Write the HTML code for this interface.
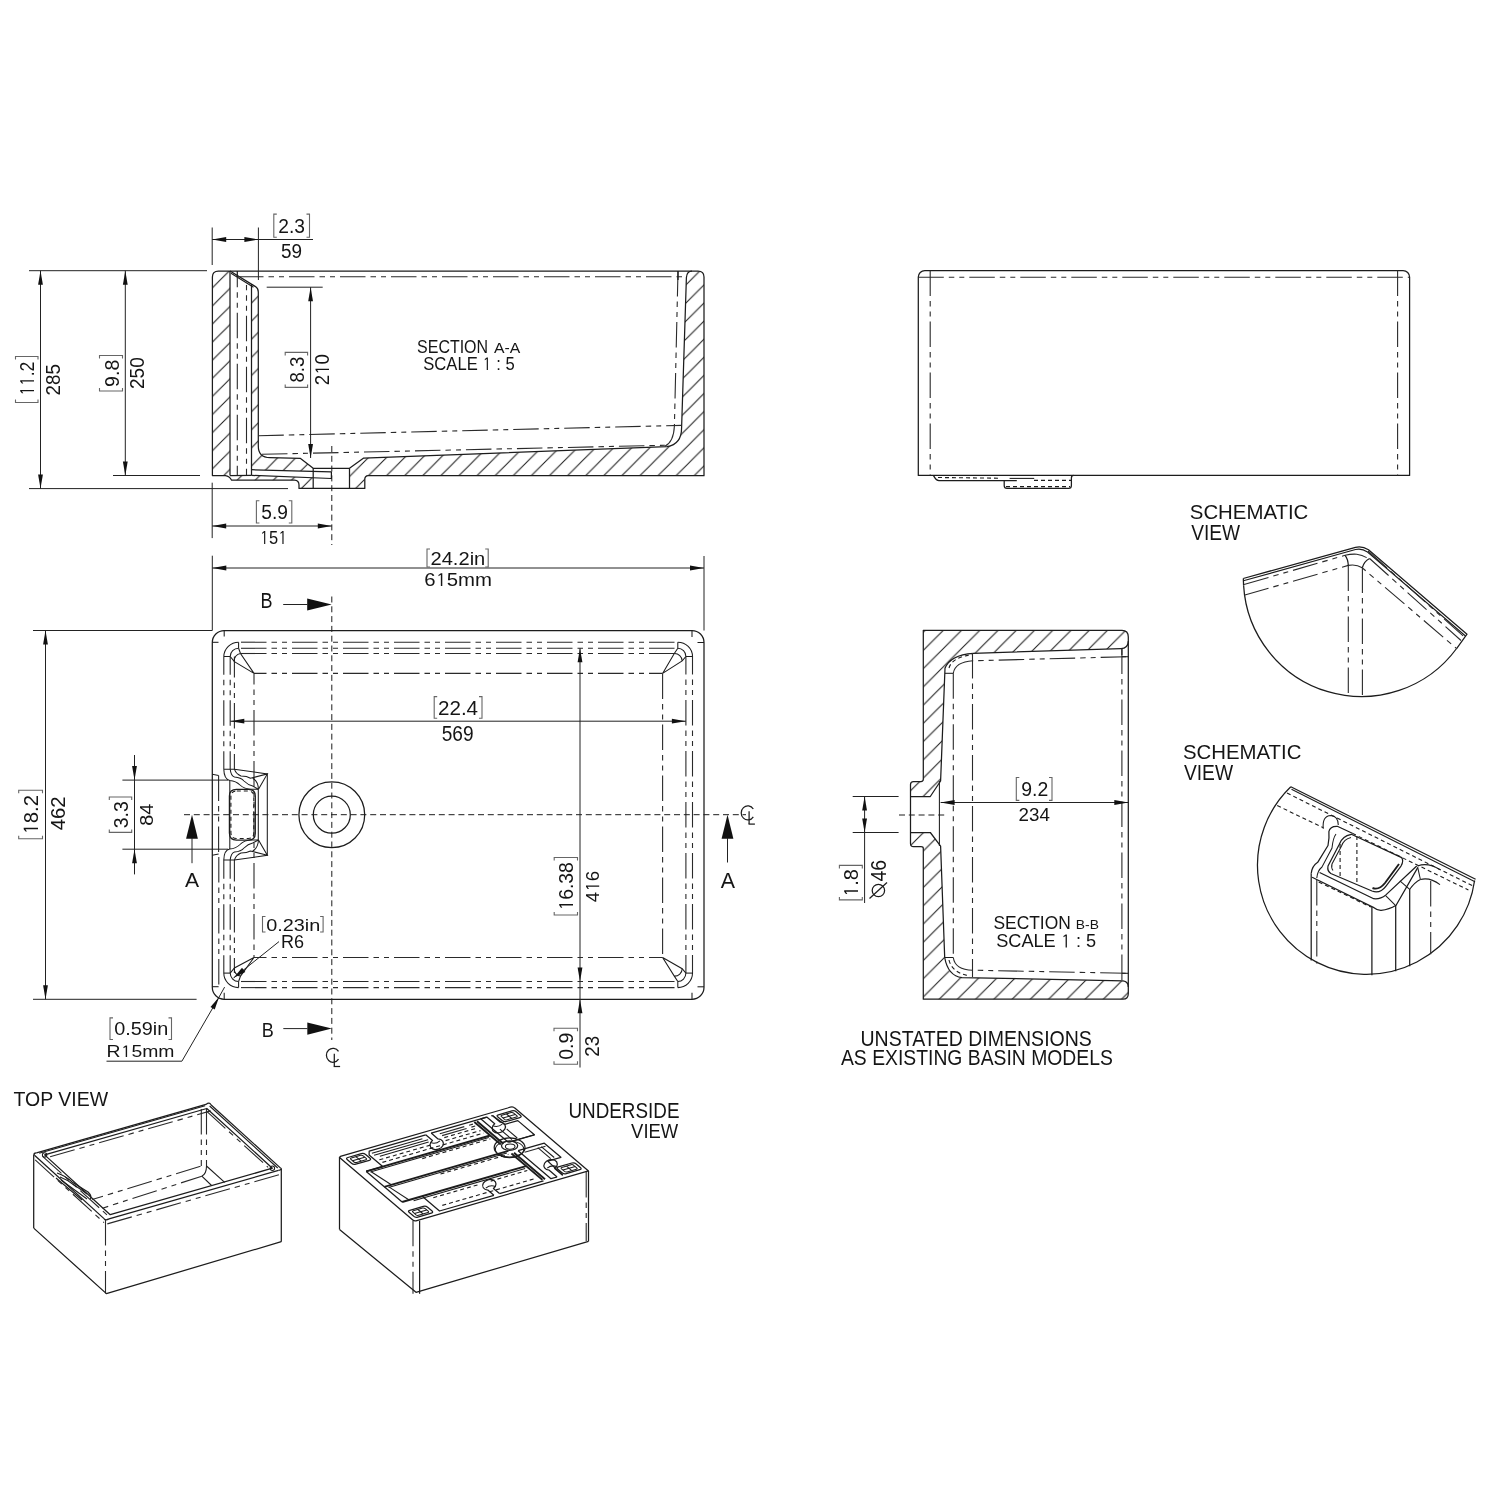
<!DOCTYPE html>
<html><head><meta charset="utf-8"><style>
html,body{margin:0;padding:0;background:#fff;overflow:hidden;}
svg{display:block;will-change:transform;}
.s{stroke:#1c1c1c;stroke-width:1.25;fill:none;stroke-linecap:butt;stroke-linejoin:round;}
.sb{stroke:#1c1c1c;stroke-width:1.9;fill:none;}
.sh{stroke:#1c1c1c;stroke-width:1.05;fill:none;}
.d{stroke:#1c1c1c;stroke-width:1.1;fill:none;stroke-dasharray:6 4;}
.ds{stroke:#1c1c1c;stroke-width:1.1;fill:none;stroke-dasharray:4 3;}
.ph{stroke:#2a2a2a;stroke-width:1.1;fill:none;stroke-dasharray:25.5 5 5.5 5 5 5;}
.cl{stroke:#1c1c1c;stroke-width:1.0;fill:none;stroke-dasharray:6 3.8;}
.dm{stroke:#222;stroke-width:1.0;fill:none;}
.f{fill:#111;stroke:none;}
.t{font-family:"Liberation Sans",sans-serif;fill:#151515;}
.tb{font-family:"Liberation Sans",sans-serif;fill:#555;}
.br{stroke:#666;stroke-width:1.1;fill:none;}
.hat{fill:url(#hatch);stroke:none;}
.hat2{fill:url(#hatch2);stroke:none;}
</style></head><body>
<svg width="1500" height="1500" viewBox="0 0 1500 1500">
<defs>
<pattern id="hatch" patternUnits="userSpaceOnUse" width="18.1" height="18.1" patternTransform="translate(11.5,0)">
<path d="M-1,1 L1,-1 M0,18.1 L18.1,0 M17.1,19.1 L19.1,17.1" stroke="#1c1c1c" stroke-width="1.05"/>
</pattern>
<pattern id="hatch2" patternUnits="userSpaceOnUse" width="18.24" height="18.24" patternTransform="translate(5.0,0)">
<path d="M-1,1 L1,-1 M0,18.24 L18.24,0 M17.24,19.24 L19.24,17.24" stroke="#1c1c1c" stroke-width="1.05"/>
</pattern>
</defs>
<rect width="1500" height="1500" fill="#fff"/>
<path class="hat" d="M212.4,277 Q212.4,271 218.4,271 L230,271 L230,475.6 L212.4,475.6 Z" />
<path class="hat" d="M225.4,475.5 Q229.5,476 231.6,480.2 L294.5,480.2 Q299,480.5 299,485 L299,488.4 L313.2,488.4 L313.2,477.8 L251.5,475.4 Z" />
<path class="hat" d="M251.5,284 L255.5,286.6 Q258.3,288.5 258.3,292 L258.3,446 Q258.3,457.6 270,457.7 L300.2,458.3 L313.2,468.3 L313.2,471.3 L251.5,469.7 Z" />
<path class="hat" d="M349.5,488.4 L349.5,468.3 L363.7,458.1 L667,446.6 Q681.6,444.5 681.6,427.8 L686.4,277.5 Q686.8,271 692,271 L698,271 Q704,271 704,277 L704,475.7 L368.2,475.7 Q364.8,475.9 364.8,479.5 L364.8,488.4 Z" />
<path class="s" d="M218.4,271 L698,271 Q704,271 704,277 L704,475.7 L368.2,475.7 Q364.8,475.9 364.8,479.5 L364.8,488.4 L299,488.4 L299,485 Q299,480.5 294.5,480.2 L231.6,480.2 Q229.5,476 225.4,475.6 L212.4,475.6 L212.4,277 Q212.4,271 218.4,271" />
<line class="s" x1="230.0" y1="271.0" x2="230.0" y2="475.6"/>
<line class="s" x1="230.0" y1="475.5" x2="251.5" y2="475.4"/>
<path class="s" d="M230,271 L255.5,286.6 Q258.3,288.5 258.3,292 L258.3,446 Q258.3,457.6 270,457.7 L300.2,458.3 L313.2,468.3 L349.5,468.3 L363.7,458.1 L667,446.6 Q681.6,444.5 681.6,427.8 L686.4,277.5 Q686.8,271 692,271" />
<line class="sh" x1="231.0" y1="273.2" x2="253.5" y2="287.2"/>
<line class="s" x1="251.5" y1="284.0" x2="251.5" y2="475.4"/>
<path class="s" d="M251.5,469.7 L331.4,471.8 L331.4,478.5 L251.5,475.4" />
<line class="s" x1="313.2" y1="468.3" x2="313.2" y2="488.4"/>
<line class="s" x1="349.5" y1="468.3" x2="349.5" y2="488.4"/>
<line class="ph" x1="237.3" y1="276.0" x2="237.3" y2="475.0" stroke-dashoffset="14.3"/>
<line class="ph" x1="246.5" y1="285.0" x2="246.5" y2="475.0" stroke-dashoffset="20.3"/>
<line class="s" x1="237.3" y1="271.0" x2="237.3" y2="277.0"/>
<line class="ph" x1="238.0" y1="276.7" x2="686.0" y2="276.7"/>
<path class="ph" d="M678,271 L674.4,426 Q673.5,446 660,447.5" />
<line class="s" x1="678.0" y1="271.0" x2="678.0" y2="280.0"/>
<line class="ph" x1="258.3" y1="435.8" x2="681.6" y2="425.4"/>
<line class="ph" x1="262.0" y1="454.3" x2="668.0" y2="445.2"/>
<line class="cl" x1="331.8" y1="446.0" x2="331.8" y2="545.0"/>
<line class="dm" x1="212.2" y1="227.5" x2="212.2" y2="265.0"/>
<line class="dm" x1="258.4" y1="227.5" x2="258.4" y2="280.0"/>
<line class="dm" x1="212.2" y1="239.5" x2="313.0" y2="239.5"/>
<path class="f" d="M212.2,239.5 L226.2,237.1 L226.2,241.9 Z"/>
<path class="f" d="M258.4,239.5 L244.4,241.9 L244.4,237.1 Z"/>
<path class="br" d="M276.8,214.1 H273.8 V237.2 H276.8 M306.5,214.1 H309.5 V237.2 H306.5"/>
<text class="t" x="278.23" y="233.00" font-size="20.06" textLength="26.71" lengthAdjust="spacingAndGlyphs">2.3</text>
<text class="t" x="280.94" y="258.00" font-size="19.48" textLength="21.05" lengthAdjust="spacingAndGlyphs">59</text>
<line class="dm" x1="29.0" y1="270.7" x2="207.0" y2="270.7"/>
<line class="dm" x1="29.0" y1="488.6" x2="288.0" y2="488.6"/>
<line class="dm" x1="40.5" y1="270.7" x2="40.5" y2="488.6"/>
<path class="f" d="M40.5,270.7 L42.9,284.7 L38.1,284.7 Z"/>
<path class="f" d="M40.5,488.6 L38.1,474.6 L42.9,474.6 Z"/>
<path class="br" d="M15.5,399.5 V402.5 H38.0 V399.5 M15.5,359.5 V356.5 H38.0 V359.5"/>
<text class="t" transform="translate(34.00,395.84) rotate(-90)" font-size="20.06" textLength="34.22" lengthAdjust="spacingAndGlyphs">  .2</text>
<path class="t" d="M34.00,391.20 L21.90,391.20 L23.32,393.26 L21.95,393.26 L20.20,391.16 L20.20,389.96 L34.00,389.96 Z"/>
<path class="t" d="M34.00,381.42 L21.90,381.42 L23.32,383.48 L21.95,383.48 L20.20,381.38 L20.20,380.18 L34.00,380.18 Z"/>
<text class="t" transform="translate(59.50,395.44) rotate(-90)" font-size="20.06" textLength="31.23" lengthAdjust="spacingAndGlyphs">285</text>
<line class="dm" x1="113.0" y1="475.5" x2="200.0" y2="475.5"/>
<line class="dm" x1="125.3" y1="270.7" x2="125.3" y2="475.5"/>
<path class="f" d="M125.3,270.7 L127.7,284.7 L122.9,284.7 Z"/>
<path class="f" d="M125.3,475.5 L122.9,461.5 L127.7,461.5 Z"/>
<path class="br" d="M99.5,388.0 V391.0 H122.5 V388.0 M99.5,358.5 V355.5 H122.5 V358.5"/>
<text class="t" transform="translate(118.50,386.92) rotate(-90)" font-size="20.06" textLength="27.27" lengthAdjust="spacingAndGlyphs">9.8</text>
<text class="t" transform="translate(144.00,388.96) rotate(-90)" font-size="20.06" textLength="31.70" lengthAdjust="spacingAndGlyphs">250</text>
<line class="dm" x1="266.7" y1="287.2" x2="322.7" y2="287.2"/>
<line class="dm" x1="310.6" y1="287.2" x2="310.6" y2="458.0"/>
<path class="f" d="M310.6,287.2 L313.0,301.2 L308.2,301.2 Z"/>
<path class="f" d="M310.6,458.0 L308.2,444.0 L313.0,444.0 Z"/>
<path class="br" d="M285.2,384.4 V387.4 H307.6 V384.4 M285.2,355.4 V352.4 H307.6 V355.4"/>
<text class="t" transform="translate(303.60,382.61) rotate(-90)" font-size="19.77" textLength="25.93" lengthAdjust="spacingAndGlyphs">8.3</text>
<text class="t" transform="translate(329.00,385.24) rotate(-90)" font-size="19.63" textLength="31.06" lengthAdjust="spacingAndGlyphs">2 0</text>
<path class="t" d="M329.00,369.97 L317.16,369.97 L318.55,372.15 L317.21,372.15 L315.50,369.93 L315.50,368.65 L329.00,368.65 Z"/>
<line class="dm" x1="212.2" y1="482.7" x2="212.2" y2="538.1"/>
<line class="dm" x1="212.2" y1="526.0" x2="331.8" y2="526.0"/>
<path class="f" d="M212.2,526.0 L226.2,523.6 L226.2,528.4 Z"/>
<path class="f" d="M331.8,526.0 L317.8,528.4 L317.8,523.6 Z"/>
<path class="br" d="M259.4,500.8 H256.4 V523.0 H259.4 M288.8,500.8 H291.8 V523.0 H288.8"/>
<text class="t" x="261.23" y="519.40" font-size="19.77" textLength="26.68" lengthAdjust="spacingAndGlyphs">5.9</text>
<text class="t" x="259.75" y="544.00" font-size="18.91" textLength="27.46" lengthAdjust="spacingAndGlyphs"> 5 </text>
<path class="t" d="M264.09,544.00 L264.09,532.60 L262.16,533.93 L262.16,532.64 L264.13,530.99 L265.25,530.99 L265.25,544.00 Z"/>
<path class="t" d="M282.39,544.00 L282.39,532.60 L280.46,533.93 L280.46,532.64 L282.43,530.99 L283.56,530.99 L283.56,544.00 Z"/>
<text class="t" x="417.07" y="353.10" font-size="18.77" textLength="71.03" lengthAdjust="spacingAndGlyphs">SECTION</text>
<text class="t" x="493.97" y="353.10" font-size="15.26" textLength="26.26" lengthAdjust="spacingAndGlyphs">A-A</text>
<text class="t" x="423.25" y="370.10" font-size="18.34" textLength="91.45" lengthAdjust="spacingAndGlyphs">SCALE   : 5</text>
<path class="t" d="M486.74,370.10 L486.74,359.04 L484.80,360.34 L484.80,359.09 L486.78,357.48 L487.92,357.48 L487.92,370.10 Z"/>
<path class="s" d="M224.3,630.5 H692.0 A12.0,12.0 0 0 1 704.0,642.5 V987.3 A12.0,12.0 0 0 1 692.0,999.3 H224.3 A12.0,12.0 0 0 1 212.3,987.3 V642.5 A12.0,12.0 0 0 1 224.3,630.5 Z" />
<line class="sh" x1="224.2" y1="630.5" x2="224.2" y2="636.5"/>
<line class="sh" x1="212.3" y1="642.3" x2="218.5" y2="642.3"/>
<line class="sh" x1="692.0" y1="630.5" x2="692.0" y2="637.0"/>
<line class="sh" x1="697.5" y1="642.5" x2="704.0" y2="642.5"/>
<line class="sh" x1="224.2" y1="999.3" x2="224.2" y2="992.7"/>
<line class="sh" x1="212.3" y1="986.7" x2="218.6" y2="986.7"/>
<line class="sh" x1="692.0" y1="999.3" x2="692.0" y2="992.7"/>
<line class="sh" x1="697.5" y1="986.8" x2="704.0" y2="986.8"/>
<line class="ph" x1="238.6" y1="642.2" x2="677.8" y2="642.2" stroke-dashoffset="48.6"/>
<line class="ph" x1="238.6" y1="648.3" x2="677.8" y2="648.3" stroke-dashoffset="48.6"/>
<line class="ph" x1="240.5" y1="653.5" x2="674.3" y2="653.5" stroke-dashoffset="50.5"/>
<line class="ph" x1="254.0" y1="673.4" x2="662.6" y2="673.4" stroke-dashoffset="13.0"/>
<line class="ph" x1="254.0" y1="957.5" x2="662.6" y2="957.5" stroke-dashoffset="13.0"/>
<line class="ph" x1="238.6" y1="981.5" x2="677.8" y2="981.5" stroke-dashoffset="48.6"/>
<line class="ph" x1="238.6" y1="987.6" x2="677.8" y2="987.6" stroke-dashoffset="48.6"/>
<line class="ph" x1="223.8" y1="656.5" x2="223.8" y2="769.2" stroke-dashoffset="7.2"/>
<line class="ph" x1="223.8" y1="860.0" x2="223.8" y2="973.1" stroke-dashoffset="6.7"/>
<line class="ph" x1="230.2" y1="656.5" x2="230.2" y2="769.2" stroke-dashoffset="7.2"/>
<line class="ph" x1="230.2" y1="860.0" x2="230.2" y2="973.1" stroke-dashoffset="6.7"/>
<line class="ph" x1="234.4" y1="656.5" x2="234.4" y2="769.2" stroke-dashoffset="4.5"/>
<line class="ph" x1="234.4" y1="860.0" x2="234.4" y2="973.1" stroke-dashoffset="4.0"/>
<line class="ph" x1="218.6" y1="775.4" x2="218.6" y2="853.9"/>
<line class="ph" x1="218.8" y1="853.9" x2="218.8" y2="986.7" stroke-dashoffset="47.9"/>
<line class="sh" x1="212.3" y1="774.3" x2="218.6" y2="775.4"/>
<line class="sh" x1="212.3" y1="855.3" x2="218.6" y2="853.9"/>
<line class="ph" x1="254.0" y1="673.4" x2="254.0" y2="957.5" stroke-dashoffset="14.4"/>
<line class="ph" x1="662.6" y1="673.4" x2="662.6" y2="957.5" stroke-dashoffset="0.0"/>
<line class="ph" x1="685.9" y1="656.5" x2="685.9" y2="973.1" stroke-dashoffset="7.5"/>
<line class="ph" x1="692.5" y1="656.0" x2="692.5" y2="973.6" stroke-dashoffset="7.0"/>
<path class="sh" d="M223.79999999999998,656.5 A14.8,14.8 0 0 1 238.6,642.2" />
<path class="sh" d="M230.2,656.5 A8.4,8.2 0 0 1 238.6,648.3" />
<line class="sh" x1="223.8" y1="656.5" x2="230.2" y2="656.5"/>
<line class="sh" x1="238.6" y1="642.2" x2="238.6" y2="648.3"/>
<path class="sh" d="M240.5,653.5 A7,7 0 0 0 234.4,661.6" />
<path class="sh" d="M230.2,656.5 L234.4,661.6 L254,673.4 L240.5,653.5 L238.6,648.3" />
<path class="sh" d="M677.8,642.2 A14.7,14.3 0 0 1 692.5,656.5" />
<path class="sh" d="M677.8,648.3 A8.1,8.2 0 0 1 685.9,656.5" />
<line class="sh" x1="677.8" y1="642.2" x2="677.8" y2="648.3"/>
<line class="sh" x1="685.9" y1="656.5" x2="692.5" y2="656.5"/>
<path class="sh" d="M674.3,653.5 A7.6,7.6 0 0 1 682.1999999999999,660.9" />
<path class="sh" d="M677.8,648.3 L674.3,653.5 L662.6,673.4 L682.1999999999999,660.9 L685.9,656.5" />
<path class="sh" d="M223.79999999999998,973.1 A14.8,14.5 0 0 0 238.6,987.6" />
<path class="sh" d="M230.2,973.1 A8.4,8.4 0 0 0 238.6,981.5" />
<line class="sh" x1="223.8" y1="973.1" x2="230.2" y2="973.1"/>
<line class="sh" x1="238.6" y1="981.5" x2="238.6" y2="987.6"/>
<path class="sh" d="M240.5,976.1 A7,7 0 0 1 234.4,968.0" />
<path class="sh" d="M230.2,973.1 L234.4,968.0 L254,957.5 L240.5,976.1 L238.6,981.5" />
<path class="sh" d="M677.8,987.6 A14.7,14.5 0 0 0 692.5,973.1" />
<path class="sh" d="M677.8,981.5 A8.1,8.4 0 0 0 685.9,973.1" />
<line class="sh" x1="677.8" y1="987.6" x2="677.8" y2="981.5"/>
<line class="sh" x1="685.9" y1="973.1" x2="692.5" y2="973.1"/>
<path class="sh" d="M674.3,976.1 A7.6,7.6 0 0 0 682.1999999999999,968.7" />
<path class="sh" d="M677.8,981.5 L674.3,976.1 L662.6,957.5 L682.1999999999999,968.7 L685.9,973.1" />
<path class="sh" d="M223.8,769.2 H234.3 L267.3,773.9 V855.3 L234.3,860 H223.8" />
<path class="sh" d="M223.8,769.2 Q224,779 229.8,780.5 Q236,781 240,785 Q244,789 252,789.3 L258.3,789.3" />
<path class="sh" d="M230.2,769.2 Q231,776 234.5,777 Q241,777.5 244,781 Q248,785 252.7,786 L258.3,789.3" />
<path class="sh" d="M234.4,769.2 Q236,774 241,776 Q247,776 250.5,778.3 L267.3,773.9 L258.5,789.3" />
<path class="sh" d="M252.7,778.3 Q258,781 258.5,789.3" />
<path class="sh" d="M223.8,860 Q224,850 229.8,849 Q236,848.5 240,844.5 Q244,840 252,840 L258.3,840" />
<path class="sh" d="M230.2,860 Q231,853 234.5,852 Q241,851.5 244,848 Q248,844 252.7,843 L258.3,840" />
<path class="sh" d="M234.4,860 Q236,855 241,853 Q247,853 250.5,851 L267.3,855.3 L258.5,840" />
<path class="sh" d="M252.7,851 Q258,848 258.5,840" />
<line class="sh" x1="229.8" y1="780.5" x2="229.8" y2="849.0"/>
<line class="sh" x1="258.3" y1="789.3" x2="258.3" y2="840.0"/>
<path class="s" d="M236.5,789.3 H248.5 Q255.3,789.3 255.3,796 V833.5 Q255.3,840 248.5,840 H236.5 Q229.4,840 229.4,833 V796 Q229.4,789.3 236.5,789.3 Z" />
<path class="ds" d="M236.8,791 H248.3 Q253.8,791 253.8,796.5 V833 Q253.8,838.5 248.3,838.5 H236.8 Q230.9,838.5 230.9,832.5 V796.5 Q230.9,791 236.8,791 Z" />
<circle class="s" cx="331.8" cy="814.7" r="32.9"/>
<circle class="s" cx="331.8" cy="814.7" r="18.5"/>
<line class="cl" x1="184.0" y1="814.7" x2="746.0" y2="814.7"/>
<line class="cl" x1="331.8" y1="596.5" x2="331.8" y2="1040.0"/>
<line class="dm" x1="212.3" y1="555.7" x2="212.3" y2="630.5"/>
<line class="dm" x1="704.0" y1="556.0" x2="704.0" y2="630.5"/>
<line class="dm" x1="212.3" y1="568.0" x2="704.0" y2="568.0"/>
<path class="f" d="M212.3,568.0 L226.3,565.6 L226.3,570.4 Z"/>
<path class="f" d="M704.0,568.0 L690.0,570.4 L690.0,565.6 Z"/>
<path class="br" d="M430.0,549.0 H427.0 V567.0 H430.0 M485.2,549.0 H488.2 V567.0 H485.2"/>
<text class="t" x="430.49" y="565.00" font-size="18.62" textLength="54.82" lengthAdjust="spacingAndGlyphs">24.2in</text>
<text class="t" x="424.17" y="586.10" font-size="18.62" textLength="67.88" lengthAdjust="spacingAndGlyphs">6 5mm</text>
<path class="t" d="M440.85,586.10 L440.85,574.87 L438.47,576.19 L438.47,574.91 L440.90,573.29 L442.30,573.29 L442.30,586.10 Z"/>
<line class="dm" x1="230.3" y1="721.2" x2="685.9" y2="721.2"/>
<path class="f" d="M230.3,721.2 L244.3,718.8 L244.3,723.6 Z"/>
<path class="f" d="M685.9,721.2 L671.9,723.6 L671.9,718.8 Z"/>
<path class="br" d="M437.2,696.6 H434.2 V718.2 H437.2 M479.0,696.6 H482.0 V718.2 H479.0"/>
<text class="t" x="437.96" y="715.00" font-size="20.06" textLength="40.14" lengthAdjust="spacingAndGlyphs">22.4</text>
<text class="t" x="441.74" y="740.50" font-size="21.63" textLength="31.87" lengthAdjust="spacingAndGlyphs">569</text>
<line class="dm" x1="33.0" y1="630.5" x2="212.3" y2="630.5"/>
<line class="dm" x1="33.0" y1="999.3" x2="196.6" y2="999.3"/>
<line class="dm" x1="45.5" y1="630.5" x2="45.5" y2="999.3"/>
<path class="f" d="M45.5,630.5 L47.9,644.5 L43.1,644.5 Z"/>
<path class="f" d="M45.5,999.3 L43.1,985.3 L47.9,985.3 Z"/>
<path class="br" d="M18.7,835.8 V838.8 H42.5 V835.8 M18.7,793.2 V790.2 H42.5 V793.2"/>
<text class="t" transform="translate(38.00,834.55) rotate(-90)" font-size="20.77" textLength="39.57" lengthAdjust="spacingAndGlyphs"> 8.2</text>
<path class="t" d="M38.00,829.19 L25.47,829.19 L26.94,831.57 L25.52,831.57 L23.71,829.14 L23.71,827.75 L38.00,827.75 Z"/>
<text class="t" transform="translate(64.80,830.27) rotate(-90)" font-size="20.63" textLength="33.89" lengthAdjust="spacingAndGlyphs">462</text>
<line class="dm" x1="122.4" y1="780.1" x2="228.0" y2="780.1"/>
<line class="dm" x1="122.4" y1="849.2" x2="228.0" y2="849.2"/>
<line class="dm" x1="134.5" y1="755.0" x2="134.5" y2="874.4"/>
<path class="f" d="M134.5,780.1 L132.1,766.1 L136.9,766.1 Z"/>
<path class="f" d="M134.5,849.2 L136.9,863.2 L132.1,863.2 Z"/>
<path class="br" d="M109.3,829.4 V832.4 H131.7 V829.4 M109.3,800.0 V797.0 H131.7 V800.0"/>
<text class="t" transform="translate(127.50,828.24) rotate(-90)" font-size="19.34" textLength="27.10" lengthAdjust="spacingAndGlyphs">3.3</text>
<text class="t" transform="translate(153.20,825.86) rotate(-90)" font-size="18.77" textLength="22.04" lengthAdjust="spacingAndGlyphs">84</text>
<line class="dm" x1="580.0" y1="648.3" x2="580.0" y2="1067.5"/>
<path class="f" d="M580.0,648.3 L582.4,662.3 L577.6,662.3 Z"/>
<path class="f" d="M580.0,981.5 L577.6,967.5 L582.4,967.5 Z"/>
<path class="f" d="M580.0,999.3 L582.4,1013.3 L577.6,1013.3 Z"/>
<path class="br" d="M554.2,912.0 V915.0 H577.5 V912.0 M554.2,860.5 V857.5 H577.5 V860.5"/>
<text class="t" transform="translate(573.00,910.47) rotate(-90)" font-size="20.06" textLength="48.31" lengthAdjust="spacingAndGlyphs"> 6.38</text>
<path class="t" d="M573.00,905.38 L560.90,905.38 L562.32,907.64 L560.95,907.64 L559.20,905.33 L559.20,904.01 L573.00,904.01 Z"/>
<text class="t" transform="translate(599.20,902.13) rotate(-90)" font-size="19.20" textLength="31.25" lengthAdjust="spacingAndGlyphs">4 6</text>
<path class="t" d="M599.20,886.77 L587.62,886.77 L588.98,888.97 L587.67,888.97 L585.99,886.73 L585.99,885.45 L599.20,885.45 Z"/>
<path class="br" d="M554.0,1061.2 V1064.2 H577.5 V1061.2 M554.0,1031.3 V1028.3 H577.5 V1031.3"/>
<text class="t" transform="translate(573.00,1059.76) rotate(-90)" font-size="20.06" textLength="27.19" lengthAdjust="spacingAndGlyphs">0.9</text>
<text class="t" transform="translate(599.20,1056.74) rotate(-90)" font-size="20.34" textLength="20.87" lengthAdjust="spacingAndGlyphs">23</text>
<path class="f" d="M192.0,814.7 L197.9,838.7 L186.1,838.7 Z"/>
<line class="dm" x1="192.0" y1="838.0" x2="192.0" y2="863.2"/>
<text class="t" x="184.96" y="886.50" font-size="20.35" textLength="14.08" lengthAdjust="spacingAndGlyphs">A</text>
<path class="f" d="M727.5,814.7 L733.4,838.7 L721.6,838.7 Z"/>
<line class="dm" x1="727.5" y1="838.0" x2="727.5" y2="862.5"/>
<text class="t" x="720.76" y="888.30" font-size="21.80" textLength="14.28" lengthAdjust="spacingAndGlyphs">A</text>
<path class="f" d="M331.7,604.5 L307.2,610.6 L307.2,598.4 Z"/>
<line class="dm" x1="283.2" y1="604.5" x2="307.5" y2="604.5"/>
<text class="t" x="260.42" y="607.70" font-size="22.38" textLength="12.03" lengthAdjust="spacingAndGlyphs">B</text>
<path class="f" d="M331.8,1028.6 L307.3,1034.7 L307.3,1022.5 Z"/>
<line class="dm" x1="283.3" y1="1028.6" x2="307.5" y2="1028.6"/>
<text class="t" x="261.82" y="1036.50" font-size="19.62" textLength="12.03" lengthAdjust="spacingAndGlyphs">B</text>

<path class="s" d="M338.5,1051.4 A6.6,7 0 1 0 338.5,1059.2" />
<line class="s" x1="334.3" y1="1053.7" x2="334.3" y2="1066.5"/>
<line class="s" x1="333.7" y1="1066.5" x2="340.1" y2="1066.5"/>
<path class="s" d="M753.3,809.0 A6.6,7 0 1 0 753.3,816.8" />
<line class="s" x1="749.1" y1="811.3" x2="749.1" y2="824.1"/>
<line class="s" x1="748.5" y1="824.1" x2="754.9" y2="824.1"/>
<line class="dm" x1="219.1" y1="997.0" x2="181.9" y2="1061.2"/>
<line class="dm" x1="181.9" y1="1061.2" x2="106.5" y2="1061.2"/>
<line class="dm" x1="219.1" y1="997.0" x2="224.6" y2="987.1"/>
<path class="f" d="M219.1,997.0 L214.7,1009.5 L210.5,1007.1 Z"/>
<path class="br" d="M113.0,1017.9 H110.0 V1039.5 H113.0 M168.5,1017.9 H171.5 V1039.5 H168.5"/>
<text class="t" x="114.22" y="1035.20" font-size="18.91" textLength="54.06" lengthAdjust="spacingAndGlyphs">0.59in</text>
<text class="t" x="106.61" y="1056.90" font-size="16.42" textLength="67.87" lengthAdjust="spacingAndGlyphs">R 5mm</text>
<path class="t" d="M125.72,1056.90 L125.72,1047.00 L123.45,1048.16 L123.45,1047.04 L125.77,1045.60 L127.10,1045.60 L127.10,1056.90 Z"/>
<line class="dm" x1="279.0" y1="941.6" x2="233.5" y2="978.0"/>
<path class="f" d="M233.5,978.0 L242.0,967.8 L245.3,971.9 Z"/>
<path class="br" d="M265.5,916.5 H262.5 V932.0 H265.5 M320.1,916.5 H323.1 V932.0 H320.1"/>
<text class="t" x="266.22" y="931.00" font-size="17.19" textLength="54.06" lengthAdjust="spacingAndGlyphs">0.23in</text>
<text class="t" x="280.92" y="947.70" font-size="17.73" textLength="23.07" lengthAdjust="spacingAndGlyphs">R6</text>
<path class="hat2" d="M923.3,630.3 L1122,630.3 Q1128.3,630.3 1128.3,637 L1128.3,641.5 Q1127.8,648.6 1121,648.6 L973.3,653.3 Q950,655 945,668.3 L940.6,781 L930.3,796.5 L910.5,796.5 L910.5,832.5 L930.3,832.5 L940.6,846.1 L944.7,957.5 Q948,976 962,977.6 L1123,980.9 Q1128.3,981.5 1128.3,987 L1128.3,993.5 Q1128.3,999.2 1123,999.2 L923.3,999.2 L923.3,848.4 Q923.3,846.7 921,846.7 L913.5,846.7 Q910.5,846.7 910.5,843.5 L910.5,784.5 Q910.5,781.5 913.5,781.5 L921,781.5 Q923.3,781.5 923.3,779.3 Z" />
<path class="s" d="M923.3,630.3 L1122,630.3 Q1128.3,630.3 1128.3,637 L1128.3,641.5 Q1127.8,648.6 1121,648.6 L973.3,653.3 Q950,655 945,668.3 L940.6,781 L930.3,796.5 L910.5,796.5 L910.5,832.5 L930.3,832.5 L940.6,846.1 L944.7,957.5 Q948,976 962,977.6 L1123,980.9 Q1128.3,981.5 1128.3,987 L1128.3,993.5 Q1128.3,999.2 1123,999.2 L923.3,999.2 L923.3,848.4 Q923.3,846.7 921,846.7 L913.5,846.7 Q910.5,846.7 910.5,843.5 L910.5,784.5 Q910.5,781.5 913.5,781.5 L921,781.5 Q923.3,781.5 923.3,779.3 Z" />
<line class="sh" x1="939.4" y1="781.0" x2="939.4" y2="846.1"/>
<line class="s" x1="1128.3" y1="641.0" x2="1128.3" y2="987.0"/>
<line class="ph" x1="1121.9" y1="648.6" x2="1121.9" y2="981.0"/>
<line class="sh" x1="1121.9" y1="648.6" x2="1121.9" y2="655.0"/>
<line class="sh" x1="945.0" y1="673.3" x2="953.3" y2="673.3"/>
<line class="ph" x1="953.3" y1="673.3" x2="953.3" y2="957.5"/>
<line class="sh" x1="944.7" y1="957.5" x2="953.3" y2="957.5"/>
<path class="ph" d="M953.3,673.3 Q955,662 973,660.8 L1128,656.7" />
<path class="ds" d="M949,668 Q952,657 973,654.5" />
<line class="ph" x1="972.5" y1="653.0" x2="972.5" y2="977.0"/>
<path class="ph" d="M953.3,957.5 Q955,970 973,970.2 L1128,973.3" />
<path class="ds" d="M949,960 Q952,973 970,976" />
<line class="sh" x1="1121.9" y1="973.3" x2="1128.3" y2="973.3"/>
<line class="sh" x1="1121.9" y1="656.7" x2="1128.3" y2="656.7"/>
<line class="cl" x1="899.0" y1="815.0" x2="948.0" y2="815.0"/>
<line class="dm" x1="940.6" y1="802.5" x2="1128.3" y2="802.5"/>
<path class="f" d="M940.6,802.5 L954.6,800.1 L954.6,804.9 Z"/>
<path class="f" d="M1128.3,802.5 L1114.3,804.9 L1114.3,800.1 Z"/>
<path class="br" d="M1019.3,777.5 H1016.3 V800.4 H1019.3 M1049.0,777.5 H1052.0 V800.4 H1049.0"/>
<text class="t" x="1021.19" y="796.10" font-size="19.77" textLength="26.99" lengthAdjust="spacingAndGlyphs">9.2</text>
<text class="t" x="1018.56" y="821.20" font-size="19.05" textLength="31.29" lengthAdjust="spacingAndGlyphs">234</text>
<line class="dm" x1="852.7" y1="796.5" x2="898.6" y2="796.5"/>
<line class="dm" x1="852.7" y1="832.5" x2="898.6" y2="832.5"/>
<line class="dm" x1="864.6" y1="796.5" x2="864.6" y2="903.0"/>
<path class="f" d="M864.6,796.5 L867.0,810.5 L862.2,810.5 Z"/>
<path class="f" d="M864.6,832.5 L862.2,818.5 L867.0,818.5 Z"/>
<path class="br" d="M839.4,896.9 V899.9 H862.3 V896.9 M839.4,868.4 V865.4 H862.3 V868.4"/>
<text class="t" transform="translate(858.00,897.03) rotate(-90)" font-size="20.06" textLength="27.90" lengthAdjust="spacingAndGlyphs"> .8</text>
<path class="t" d="M858.00,891.74 L845.90,891.74 L847.32,894.09 L845.95,894.09 L844.20,891.69 L844.20,890.32 L858.00,890.32 Z"/>
<text class="t" transform="translate(885.80,881.45) rotate(-90)" font-size="21.20" textLength="21.60" lengthAdjust="spacingAndGlyphs">46</text>
<circle class="s" cx="878.4" cy="890.5" r="6.2"/>
<line class="s" x1="869.5" y1="898.5" x2="887.0" y2="882.5"/>
<text class="t" x="993.41" y="929.00" font-size="18.91" textLength="77.41" lengthAdjust="spacingAndGlyphs">SECTION</text>
<text class="t" x="1075.87" y="929.00" font-size="12.61" textLength="23.06" lengthAdjust="spacingAndGlyphs">B-B</text>
<text class="t" x="996.17" y="947.40" font-size="18.91" textLength="99.99" lengthAdjust="spacingAndGlyphs">SCALE   : 5</text>
<path class="t" d="M1065.60,947.40 L1065.60,936.00 L1063.47,937.33 L1063.47,936.04 L1065.64,934.39 L1066.89,934.39 L1066.89,947.40 Z"/>
<text class="t" x="860.51" y="1046.00" font-size="21.49" textLength="231.37" lengthAdjust="spacingAndGlyphs">UNSTATED DIMENSIONS</text>
<text class="t" x="840.96" y="1065.00" font-size="21.49" textLength="271.93" lengthAdjust="spacingAndGlyphs">AS EXISTING BASIN MODELS</text>
<path class="s" d="M918.3,475.4 V277.1 A6.5,6.5 0 0 1 924.8,270.6 H1403.1 A6.5,6.5 0 0 1 1409.6,277.1 V475.4 Z" />
<line class="ph" x1="930.2" y1="270.6" x2="930.2" y2="475.4"/>
<line class="ph" x1="1397.6" y1="270.6" x2="1397.6" y2="475.4"/>
<line class="ph" x1="918.3" y1="277.3" x2="1409.6" y2="277.3"/>
<path class="s" d="M933.4,475.4 Q936,480.6 939,480.6 L1016.8,480.6" />
<path class="s" d="M1004.2,480.6 V485.5 Q1004.2,488.4 1007,488.4 H1068.6 Q1071.4,488.4 1071.4,485.5 V478 Q1071.4,475.4 1073.5,475.4" />
<line class="sh" x1="1009.6" y1="478.4" x2="1034.2" y2="478.4"/>
<line class="ds" x1="1034.0" y1="480.4" x2="1071.0" y2="480.4"/>
<line class="ds" x1="1006.0" y1="486.6" x2="1070.0" y2="486.6"/>
<path class="ds" d="M938,477.5 L1000,478.2" />
<text class="t" x="1189.79" y="519.20" font-size="20.34" textLength="118.58" lengthAdjust="spacingAndGlyphs">SCHEMATIC</text>
<text class="t" x="1191.22" y="539.50" font-size="21.66" textLength="48.85" lengthAdjust="spacingAndGlyphs">VIEW</text>
<text class="t" x="1182.99" y="759.20" font-size="20.49" textLength="118.38" lengthAdjust="spacingAndGlyphs">SCHEMATIC</text>
<text class="t" x="1183.92" y="779.50" font-size="21.66" textLength="49.15" lengthAdjust="spacingAndGlyphs">VIEW</text>
<text class="t" x="13.57" y="1105.60" font-size="20.92" textLength="94.50" lengthAdjust="spacingAndGlyphs">TOP VIEW</text>
<text class="t" x="568.45" y="1118.00" font-size="21.37" textLength="111.07" lengthAdjust="spacingAndGlyphs">UNDERSIDE</text>
<text class="t" x="631.12" y="1138.00" font-size="20.20" textLength="47.04" lengthAdjust="spacingAndGlyphs">VIEW</text>
<path class="s" d="M1243.6,585.4 A118.1,118.1 0 0 0 1456.6,648.5" />
<path class="s" d="M1243.2,578.5 L1355.5,547.3 Q1362,545.6 1368.5,549.8 L1467,634.2 L1456.6,648.6" />
<path class="sh" d="M1243.4,580.8 L1355.5,549.6 Q1361.5,548 1367.5,552 L1465.5,636" />
<line class="s" x1="1243.3" y1="578.5" x2="1243.6" y2="585.4"/>
<path class="ph" d="M1244,584.5 L1345.1,555.3 Q1351,553.8 1356.8,554.2 Q1363,555 1368,558.5" />
<path class="ph" d="M1244,595.3 L1348.3,565.4 Q1356,563.8 1362.2,567.8 L1456.6,648.6" />
<path class="ph" d="M1368,551 L1463.8,636.5" />
<path class="ph" d="M1369.6,558.5 L1461,640.5" />
<line class="ph" x1="1348.3" y1="565.4" x2="1348.3" y2="695.9" stroke-dashoffset="0.0"/>
<line class="ph" x1="1362.4" y1="567.5" x2="1362.4" y2="696.6" stroke-dashoffset="0.0"/>
<path class="s" d="M1348.3,565.4 Q1348,559 1345.1,555.3" />
<path class="s" d="M1362.4,567.5 Q1364,561.5 1369.6,558.5" />
<path class="s" d="M1290.8,786.7 A109.1,109.1 0 1 0 1474.6,880.5" />
<path class="s" d="M1290.8,786.7 L1475.6,879.2" />
<line class="sh" x1="1291.5" y1="789.3" x2="1475.0" y2="881.8"/>
<line class="s" x1="1311.2" y1="873.5" x2="1311.2" y2="960.4"/>
<line class="ph" x1="1316.8" y1="880.0" x2="1316.8" y2="963.5"/>
<line class="s" x1="1371.9" y1="907.0" x2="1371.9" y2="975.2"/>
<line class="s" x1="1395.7" y1="905.0" x2="1395.7" y2="971.2"/>
<line class="s" x1="1409.7" y1="889.0" x2="1409.7" y2="966.3"/>
<line class="ph" x1="1430.7" y1="881.0" x2="1430.7" y2="954.2"/>
<line class="ds" x1="1340.1" y1="844.0" x2="1340.1" y2="876.0"/>
<line class="ds" x1="1356.9" y1="836.0" x2="1356.9" y2="884.0"/>
<path class="s" d="M1311.2,873.5 Q1312,866 1317.7,862.3 L1328,845.5 Q1329.5,838 1328.9,831.5 Q1330,826 1337.3,826.3 L1352.3,833.3" />
<path class="sh" d="M1323.3,828.7 Q1322,816 1330.8,815.6 Q1338,816 1338.3,825" />
<path class="sh" d="M1316.8,878 Q1317.5,870.5 1322,867 L1332,848 Q1333,838 1336,834" />
<path class="s" d="M1330.8,873.5 Q1327,871 1328,866 L1339.2,844.5 Q1342,836 1351.3,834.3 L1401.7,857.6 Q1404,861 1401,866 L1386,886 Q1380,894 1372,891 Z" />
<path class="sh" d="M1333,870.5 Q1331,868 1332,864 L1341.5,846 Q1344,839 1351,837.5" />
<path class="sb" d="M1399,864 L1385,883 Q1379,890.5 1372.5,888" />
<path class="s" d="M1312.1,877.2 L1372.8,907.1 Q1377,910.5 1381.2,910.3 Q1389,909.5 1396.1,905.2 L1417.6,867.9" />
<path class="s" d="M1319.6,872.5 L1373.7,898.7 Q1380,899.5 1385.9,894.9 L1416.7,866" />
<line class="sh" x1="1385.9" y1="895.9" x2="1395.2" y2="905.2"/>
<line class="sh" x1="1399.9" y1="880.9" x2="1409.7" y2="889.3"/>
<line class="sh" x1="1417.6" y1="866.9" x2="1420.4" y2="879.5"/>
<path class="sh" d="M1417.6,866 Q1428,862 1440,869.7" />
<path class="sh" d="M1420.4,879.5 Q1430,877 1440,884.7" />
<path class="sh" d="M1409.7,889.3 Q1415,882 1420.4,879.5" />
<line class="ds" x1="1318.7" y1="881.9" x2="1370.9" y2="907.1"/>
<line class="ds" x1="1277.2" y1="805.6" x2="1323.3" y2="827.7"/>
<line class="ds" x1="1352.3" y1="833.3" x2="1468.4" y2="890.0"/>
<line class="ds" x1="1287.0" y1="793.0" x2="1474.0" y2="886.5"/>
<path class="s" d="M36.5,1152.9 L206.0,1104.4" />
<path class="s" d="M210.9,1104.7 L280.6,1168.1" />
<path class="s" d="M278.5,1170.4 L109.0,1218.9" />
<path class="s" d="M104.0,1218.6 L34.5,1155.2" />
<path class="s" d="M34.5,1155.2 Q33.0,1152.9 36.5,1152.9" />
<path class="s" d="M206.0,1104.4 Q209.5,1101.9 210.9,1104.7" />
<path class="s" d="M280.6,1168.1 Q282.5,1169.4 278.5,1170.4" />
<path class="s" d="M109.0,1218.9 Q105.5,1220.9 104.0,1218.6" />
<line class="sh" x1="39.2" y1="1153.2" x2="205.1" y2="1105.7"/>
<line class="sh" x1="209.6" y1="1106.0" x2="277.7" y2="1168.0"/>
<line class="s" x1="33.7" y1="1154.6" x2="33.7" y2="1228.1"/>
<line class="ph" x1="105.5" y1="1219.9" x2="105.5" y2="1293.4"/>
<line class="s" x1="281.3" y1="1168.7" x2="281.3" y2="1241.7"/>
<path class="s" d="M33.7,1228.1 L106.4,1293.6 L281.3,1241.7" />
<path class="s" d="M44.6,1154.9 L206.8,1108.5 L272.4,1168.2 L110.2,1214.7 Z" />
<circle class="sh" cx="44.6" cy="1154.9" r="2.2"/>
<circle class="sh" cx="272.4" cy="1168.2" r="2.2"/>
<line class="ph" x1="50.1" y1="1156.8" x2="210.7" y2="1110.9"/>
<line class="ph" x1="206.5" y1="1111.2" x2="268.1" y2="1167.3"/>
<line class="ph" x1="42.6" y1="1156.3" x2="107.9" y2="1215.7"/>
<line class="ph" x1="35.2" y1="1159.9" x2="104.0" y2="1222.6"/>
<line class="ph" x1="107.3" y1="1223.9" x2="280.2" y2="1174.4"/>
<line class="ph" x1="201.3" y1="1109.0" x2="201.3" y2="1166.0"/>
<line class="ph" x1="206.5" y1="1109.0" x2="206.5" y2="1166.0"/>
<path class="sh" d="M206.5,1166 Q206.5,1174 201.8,1176.2" />
<line class="ph" x1="92.2" y1="1199.5" x2="201.3" y2="1166.0" stroke-dashoffset="14.2"/>
<line class="ph" x1="102.5" y1="1208.2" x2="201.8" y2="1176.2" stroke-dashoffset="19.5"/>
<line class="sh" x1="201.8" y1="1176.2" x2="211.6" y2="1185.5"/>
<line class="sh" x1="206.5" y1="1166.0" x2="224.7" y2="1182.3"/>
<path class="s" d="M57,1173 Q66,1176 72,1182 Q80,1187 88,1192 Q92,1196 90.5,1199" />
<path class="sh" d="M60,1177 Q68,1180 74,1185 Q82,1190 87,1194" />
<path class="sh" d="M61,1180 L87,1199 M56,1178 L82,1200" />
<path class="s" d="M341.0,1158.8 L339.5,1157.5 L340.4,1156.4 L507.7,1108.0 Q512.9,1105.5 514.8,1108.1 L588.5,1170.9 L416.0,1220.8 Q414.3,1221.3 412.8,1220.0 Z" />
<line class="s" x1="339.5" y1="1157.5" x2="339.5" y2="1229.5"/>
<line class="s" x1="588.5" y1="1170.9" x2="588.5" y2="1241.4"/>
<line class="sh" x1="588.5" y1="1170.9" x2="588.5" y2="1170.9"/>
<line class="ph" x1="586.2" y1="1171.9" x2="586.2" y2="1240.9"/>
<line class="ph" x1="413.0" y1="1220.8" x2="413.0" y2="1293.8"/>
<line class="s" x1="419.6" y1="1220.8" x2="419.6" y2="1293.8"/>
<path class="s" d="M339.5,1229.5 L416.0,1292.3 L588.5,1241.4" />
<path class="s" d="M347.4,1159.8 Q345.5,1158.2 347.9,1157.5 L361.3,1153.6 Q363.7,1152.9 365.6,1154.5 L369.8,1158.0 Q371.7,1159.7 369.3,1160.3 L355.8,1164.2 Q353.4,1164.9 351.5,1163.3 Z" />
<path class="sh" d="M351.0,1159.4 Q349.8,1158.4 351.3,1158.0 L360.6,1155.3 Q362.0,1154.9 363.2,1155.9 L366.2,1158.4 Q367.3,1159.4 365.9,1159.8 L356.6,1162.5 Q355.1,1162.9 354.0,1162.0 Z" />
<line class="sh" x1="355.9" y1="1156.7" x2="361.2" y2="1161.2"/>
<line class="sh" x1="352.5" y1="1160.7" x2="364.7" y2="1157.2"/>
<path class="s" d="M497.9,1117.1 Q496.0,1115.5 498.4,1114.8 L511.9,1110.9 Q514.3,1110.2 516.2,1111.8 L520.3,1115.3 Q522.3,1117.0 519.8,1117.6 L506.4,1121.5 Q504.0,1122.2 502.1,1120.6 Z" />
<path class="sh" d="M501.5,1116.7 Q500.4,1115.7 501.8,1115.3 L511.1,1112.6 Q512.6,1112.2 513.7,1113.2 L516.7,1115.7 Q517.9,1116.7 516.4,1117.1 L507.1,1119.8 Q505.7,1120.2 504.5,1119.3 Z" />
<line class="sh" x1="506.5" y1="1114.0" x2="511.8" y2="1118.5"/>
<line class="sh" x1="503.0" y1="1118.0" x2="515.2" y2="1114.5"/>
<path class="s" d="M557.9,1169.2 Q556.0,1167.6 558.4,1166.9 L571.9,1163.0 Q574.3,1162.3 576.2,1163.9 L580.3,1167.4 Q582.2,1169.0 579.8,1169.7 L566.3,1173.6 Q563.9,1174.3 562.0,1172.7 Z" />
<path class="sh" d="M561.5,1168.8 Q560.4,1167.8 561.8,1167.4 L571.1,1164.7 Q572.6,1164.3 573.7,1165.3 L576.7,1167.8 Q577.9,1168.8 576.4,1169.2 L567.1,1171.9 Q565.7,1172.3 564.5,1171.4 Z" />
<line class="sh" x1="566.5" y1="1166.1" x2="571.8" y2="1170.6"/>
<line class="sh" x1="563.0" y1="1170.1" x2="575.2" y2="1166.5"/>
<path class="s" d="M409.3,1212.6 Q407.4,1211.0 409.8,1210.3 L423.3,1206.4 Q425.7,1205.7 427.6,1207.3 L431.8,1210.8 Q433.7,1212.5 431.3,1213.2 L417.8,1217.1 Q415.4,1217.8 413.5,1216.1 Z" />
<path class="sh" d="M413.0,1212.2 Q411.8,1211.2 413.3,1210.8 L422.6,1208.1 Q424.0,1207.7 425.2,1208.7 L428.2,1211.2 Q429.3,1212.2 427.9,1212.6 L418.6,1215.3 Q417.1,1215.7 416.0,1214.8 Z" />
<line class="sh" x1="417.9" y1="1209.5" x2="423.2" y2="1214.0"/>
<line class="sh" x1="414.5" y1="1213.5" x2="426.7" y2="1210.0"/>
<path class="s" d="M382.7,1166.6 L369.1,1155.0 L369.2,1151.1 L425.7,1134.8" />
<path class="s" d="M425.7,1134.8 L432.5,1140.6 A6.8,5.2 -16 1 0 438.0,1138.9 L431.2,1133.1" />
<path class="sh" d="M430.5,1142.6 A8.3,6.7 -16 0 0 440.0,1140.9" />
<path class="s" d="M431.2,1133.1 L486.8,1117.1" />
<path class="s" d="M486.8,1117.1 L494.7,1123.8 A6.8,5.2 -16 1 0 500.3,1122.2 L492.4,1115.5" />
<path class="sh" d="M492.7,1125.8 A8.3,6.7 -16 0 0 502.3,1124.2" />
<path class="s" d="M492.4,1115.5 L491.2,1115.8" />
<line class="sh" x1="371.9" y1="1153.3" x2="422.4" y2="1138.7"/>
<line class="sh" x1="374.1" y1="1155.3" x2="428.1" y2="1139.7"/>
<line class="sh" x1="379.9" y1="1156.2" x2="428.7" y2="1142.1"/>
<line class="ph" x1="439.8" y1="1133.7" x2="472.9" y2="1124.1"/>
<line class="ph" x1="442.1" y1="1135.6" x2="475.2" y2="1126.0"/>
<line class="ds" x1="444.3" y1="1137.6" x2="477.4" y2="1128.0"/>
<line class="ds" x1="379.4" y1="1159.8" x2="431.7" y2="1144.7"/>
<line class="ds" x1="445.6" y1="1140.6" x2="480.5" y2="1130.6"/>
<line class="ds" x1="382.4" y1="1162.4" x2="483.5" y2="1133.1"/>
<line class="sb" x1="366.2" y1="1171.4" x2="490.2" y2="1135.5"/>
<line class="sb" x1="384.3" y1="1186.8" x2="508.4" y2="1150.9"/>
<line class="sb" x1="402.1" y1="1202.0" x2="526.1" y2="1166.1"/>
<line class="sh" x1="370.3" y1="1171.9" x2="488.8" y2="1137.6"/>
<line class="sh" x1="388.5" y1="1187.4" x2="506.9" y2="1153.1"/>
<line class="ds" x1="422.3" y1="1158.6" x2="490.3" y2="1138.9"/>
<line class="ds" x1="440.5" y1="1174.0" x2="508.4" y2="1154.4"/>
<line class="s" x1="366.2" y1="1171.4" x2="384.3" y2="1186.8"/>
<line class="s" x1="384.3" y1="1186.8" x2="402.1" y2="1202.0"/>
<line class="sh" x1="371.2" y1="1171.7" x2="391.3" y2="1184.8"/>
<line class="sh" x1="389.3" y1="1187.1" x2="409.1" y2="1200.0"/>
<path class="s" d="M366.2,1171.4 L382.7,1166.6" />
<path class="s" d="M422.5,1196.5 L439.5,1211.0 L493.9,1195.3" />
<path class="s" d="M493.9,1195.3 L487.8,1190.1 A6.8,5.2 -16 1 1 493.4,1188.5 L499.5,1193.6" />
<path class="sh" d="M485.8,1188.1 A8.3,6.7 -16 0 1 495.4,1186.5" />
<path class="s" d="M499.5,1193.6 L543.5,1180.9" />
<line class="ds" x1="433.3" y1="1197.7" x2="480.3" y2="1184.1"/>
<line class="ds" x1="490.7" y1="1181.1" x2="527.3" y2="1170.5"/>
<line class="ds" x1="442.3" y1="1205.4" x2="536.4" y2="1178.2"/>
<line class="sh" x1="413.6" y1="1200.8" x2="525.1" y2="1168.5"/>
<line class="sb" x1="474.3" y1="1122.0" x2="500.8" y2="1144.5"/>
<line class="sb" x1="511.4" y1="1153.5" x2="542.4" y2="1179.9"/>
<line class="sb" x1="477.0" y1="1121.2" x2="503.4" y2="1143.8"/>
<line class="sb" x1="514.0" y1="1152.8" x2="545.0" y2="1179.2"/>
<path class="s" d="M508.3,1142.3 L480.7,1118.8 L486.8,1117.1" />
<path class="s" d="M492.4,1115.5 L504.7,1124.4 L517.8,1120.6 L534.4,1134.8 L508.3,1142.3" />
<line class="sh" x1="512.0" y1="1139.5" x2="499.9" y2="1129.2"/>
<line class="sh" x1="517.2" y1="1138.0" x2="506.7" y2="1129.0"/>
<line class="sh" x1="510.0" y1="1141.8" x2="534.4" y2="1134.8"/>
<path class="s" d="M518.1,1150.7 L544.3,1143.2 L560.9,1157.3 L547.8,1161.1 L562.7,1175.3" />
<path class="s" d="M518.1,1150.7 L551.0,1178.7 L557.1,1177.0" />
<path class="s" d="M557.1,1177.0 L549.2,1170.2 A6.8,5.2 -16 1 1 554.7,1168.6 L562.7,1175.3" />
<path class="sh" d="M547.2,1168.2 A8.3,6.7 -16 0 1 556.7,1166.6" />
<line class="ph" x1="524.6" y1="1152.3" x2="545.5" y2="1146.2"/>
<line class="sh" x1="537.8" y1="1147.6" x2="550.7" y2="1158.6"/>
<line class="sh" x1="541.3" y1="1146.6" x2="554.2" y2="1157.5"/>
<ellipse class="s" cx="509.6" cy="1147.5" rx="15.4" ry="9.6"/>
<ellipse class="sh" cx="509.6" cy="1149.3" rx="14.2" ry="8.4"/>
<ellipse class="s" cx="509.6" cy="1145.7" rx="8.1" ry="4.6"/>
<ellipse class="sh" cx="510.2" cy="1146.6" rx="4.8" ry="2.6"/>
</svg>
</body></html>
